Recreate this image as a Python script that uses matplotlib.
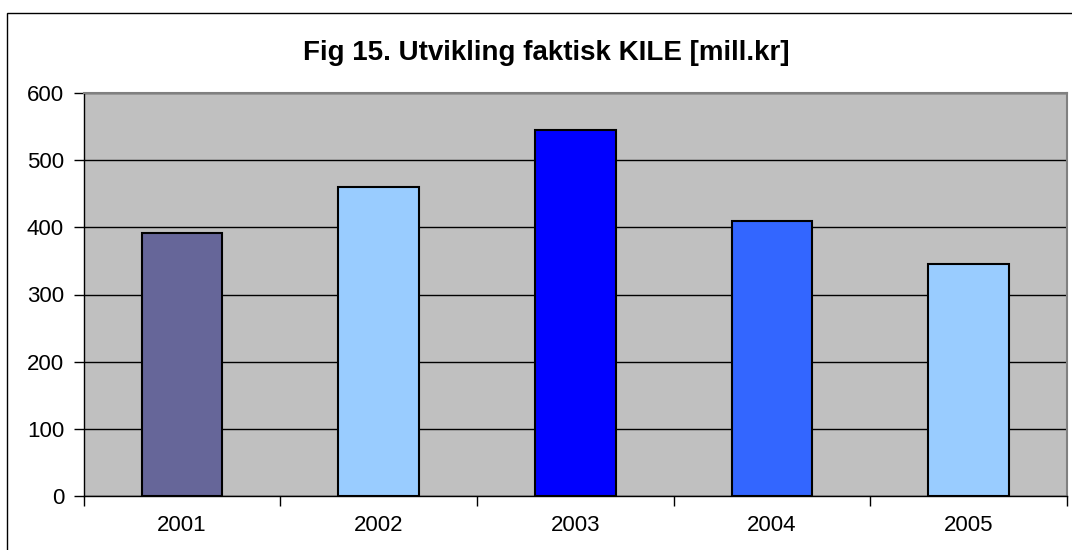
import matplotlib
matplotlib.use("Agg")
import matplotlib.pyplot as plt
from matplotlib.patches import Rectangle
import numpy as np

years = ["2001", "2002", "2003", "2004", "2005"]
values = [392, 460, 545, 410, 346]
colors = ["#666699", "#99CCFF", "#0000FF", "#3366FF", "#99CCFF"]
yticks = [0, 100, 200, 300, 400, 500, 600]
title = "Fig 15. Utvikling faktisk KILE [mill.kr]"

plt.rcParams['font.family'] = ['Liberation Sans', 'DejaVu Sans']

W, H = 1072, 550
fig = plt.figure(figsize=(W / 100, H / 100), dpi=100)
ax = fig.add_axes([83.5 / W, 1 - 496 / H, (1067 - 83.5) / W, (496 - 93) / H])
ax.set_facecolor("#C0C0C0")

x = np.arange(len(years))
ax.bar(x, values, width=0.41, color=colors, edgecolor="black", linewidth=1.5, zorder=3)

ax.set_xlim(-0.5, len(years) - 0.5)
ax.set_ylim(0, 600)
ax.set_yticks(yticks)
ax.set_yticklabels([str(v) for v in yticks])
ax.yaxis.grid(True, color="black", linewidth=1, zorder=1)
ax.set_axisbelow(True)

ax.set_xticks(x)
ax.set_xticklabels(years)
ax.set_xticks(np.arange(-0.5, len(years), 1.0), minor=True)
ax.tick_params(axis="x", which="major", length=0, pad=14, labelsize=16)
ax.tick_params(axis="x", which="minor", length=7, width=1, color="black")
ax.tick_params(axis="y", length=7, width=1, pad=7, labelsize=16)

for s in ["left", "bottom"]:
    ax.spines[s].set_color("black")
    ax.spines[s].set_linewidth(1)
for s in ["top", "right"]:
    ax.spines[s].set_color("#808080")
    ax.spines[s].set_linewidth(1.5)

fig.text(546 / W, 1 - 60 / H, title, ha="center", va="baseline",
         fontsize=20, fontweight="bold")

fig.patches.append(Rectangle((7 / W, -0.1), 1.2, (1 - 13 / H) + 0.1,
                             transform=fig.transFigure, fill=False,
                             edgecolor="black", linewidth=1, clip_on=False))

fig.savefig("out.png", dpi=100)
